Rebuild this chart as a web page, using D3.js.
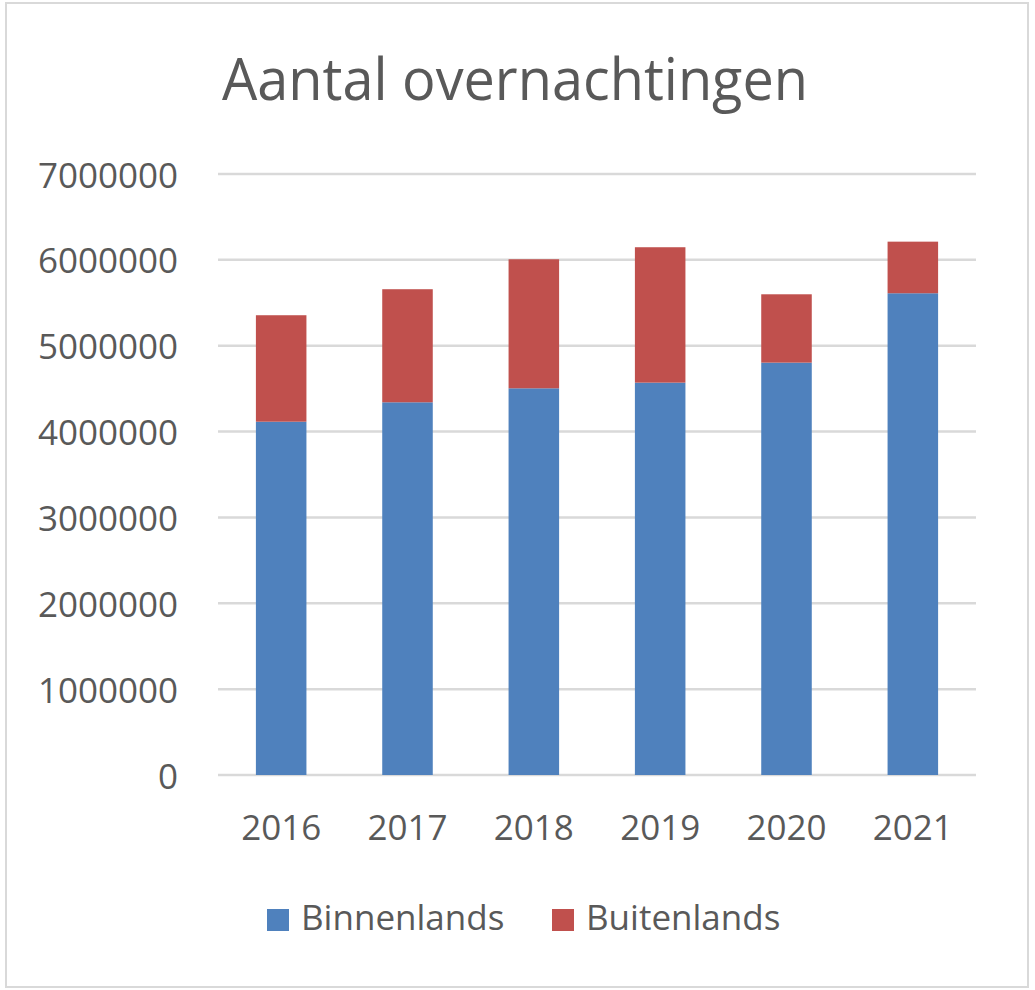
<!doctype html>
<html lang="en">

<head>
  <title>Aantal overnachtingen</title>
  <meta charset="utf-8" />
  <script src="https://d3js.org/d3.v7.min.js"></script>
  <style>
    body { margin: 0; background: #fff; }
    text { font-family: "Open Sans", sans-serif; fill: #595959; }
  </style>
</head>

<body>
  <figure id="bar-chart" style="margin:0"></figure>

  <script>
    // data
    const years = ["2016", "2017", "2018", "2019", "2020", "2021"];
    const binnenlands = [4115000, 4341000, 4504000, 4570000, 4803000, 5611000];
    const buitenlands = [1240000, 1317000, 1503000, 1577000, 796000, 601000];
    const seriesNames = ["Binnenlands", "Buitenlands"];
    const seriesColors = ["#4f81bd", "#c0504d"];
    const yTicks = [0, 1000000, 2000000, 3000000, 4000000, 5000000, 6000000, 7000000];

    const width = 1035, height = 990;
    const plot = { left: 218, right: 976, top: 174, bottom: 775 };

    const svg = d3.select("#bar-chart").append("svg")
      .attr("width", width)
      .attr("height", height);

    // chart border
    svg.append("rect")
      .attr("x", 6).attr("y", 3)
      .attr("width", 1022).attr("height", 984)
      .attr("fill", "none")
      .attr("stroke", "#d9d9d9")
      .attr("stroke-width", 2);

    const x = d3.scaleBand()
      .domain(years)
      .range([plot.left, plot.right])
      .paddingInner(0.6)
      .paddingOuter(0.3);

    const y = d3.scaleLinear()
      .domain([0, 7000000])
      .range([plot.bottom, plot.top]);

    // gridlines
    svg.append("g")
      .selectAll("line")
      .data(yTicks)
      .join("line")
      .attr("x1", plot.left).attr("x2", plot.right)
      .attr("y1", d => y(d)).attr("y2", d => y(d))
      .attr("stroke", "#d9d9d9")
      .attr("stroke-width", 2.5);

    // y labels
    svg.append("g")
      .selectAll("text")
      .data(yTicks)
      .join("text")
      .attr("x", 178)
      .attr("y", d => y(d))
      .attr("text-anchor", "end")
      .attr("dominant-baseline", "central")
      .style("font-size", "35px")
      .text(d => d);

    // stacked bars
    const rows = years.map((yr, i) => ({ year: yr, Binnenlands: binnenlands[i], Buitenlands: buitenlands[i] }));
    const stacked = d3.stack().keys(seriesNames)(rows);

    svg.append("g")
      .selectAll("g")
      .data(stacked)
      .join("g")
      .attr("fill", (d, i) => seriesColors[i])
      .selectAll("rect")
      .data(d => d)
      .join("rect")
      .attr("x", d => x(d.data.year))
      .attr("y", d => y(d[1]))
      .attr("width", x.bandwidth())
      .attr("height", d => y(d[0]) - y(d[1]));

    // x labels
    svg.append("g")
      .selectAll("text")
      .data(years)
      .join("text")
      .attr("x", d => x(d) + x.bandwidth() / 2)
      .attr("y", 840)
      .attr("text-anchor", "middle")
      .style("font-size", "35px")
      .text(d => d);

    // title
    svg.append("text")
      .attr("x", 515)
      .attr("y", 100)
      .attr("text-anchor", "middle")
      .attr("textLength", 586)
      .attr("lengthAdjust", "spacingAndGlyphs")
      .style("font-size", "58px")
      .text("Aantal overnachtingen");

    // legend
    const legendX = [267, 552];
    const legend = svg.append("g")
      .selectAll("g")
      .data(seriesNames)
      .join("g")
      .attr("transform", (d, i) => "translate(" + legendX[i] + ",0)");

    legend.append("rect")
      .attr("x", 0).attr("y", 909)
      .attr("width", 22).attr("height", 22)
      .attr("fill", (d, i) => seriesColors[i]);

    legend.append("text")
      .attr("x", 34)
      .attr("y", 930)
      .style("font-size", "35px")
      .text(d => d);
  </script>

</body></html>
